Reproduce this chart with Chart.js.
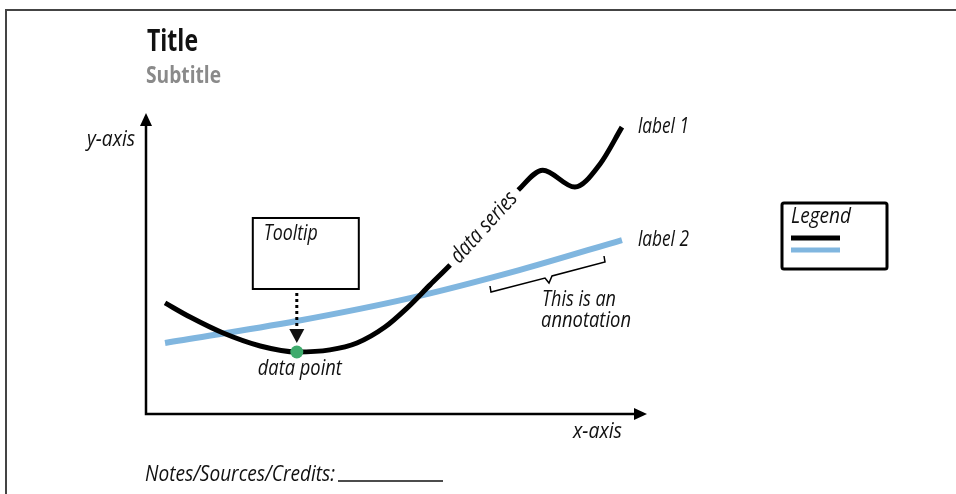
<!DOCTYPE html>
<html>
<head>
<meta charset="utf-8">
<script src="https://cdn.jsdelivr.net/npm/chart.js@4/dist/chart.umd.min.js"></script>
<style>
  html, body { margin: 0; padding: 0; background: #fff; }
  #wrap { width: 956px; height: 494px; position: relative; }
</style>
</head>
<body>
<div id="wrap"><canvas id="c" width="956" height="494"></canvas></div>
<script>
// ---- data (abstract units, 0..10 on both axes) ----
const seriesX1 = [0.38, 0.88, 1.54, 2.28, 3.01, 3.67, 4.21, 4.77, 5.21, 5.67, 6.07, 6.77, 7.43, 7.92, 8.56, 9.06, 9.50];
const seriesY1 = [3.69, 3.22, 2.69, 2.26, 2.06, 2.13, 2.36, 2.89, 3.52, 4.29, 4.95, 6.20, 7.44, 8.10, 7.54, 8.30, 9.53];
const seriesX2 = [0.38, 3.01, 5.27, 7.45, 9.50];
const seriesY2 = [2.36, 3.09, 3.85, 4.78, 5.78];
const highlightX = [3.01];
const highlightY = [2.06];
const seriesLabels = ['label 1', 'label 2'];
const gapRange = [10, 12]; // indexes of series 1 where the "data series" text sits

const FONT = "'Open Sans', 'Noto Sans', sans-serif";
const BLUE = '#80b6df';
const GREEN = '#3fab6d';

const pts = (xs, ys) => xs.map((x, i) => ({ x, y: ys[i] }));

function txt(ctx, s, x, y, w) {
  ctx.fillText(s, x, y, w);
}

const annot = {
  id: 'annot',
  afterDatasetsDraw(chart) {
    const ctx = chart.ctx;
    const ca = chart.chartArea;
    ctx.save();
    // frame
    ctx.strokeStyle = '#444';
    ctx.lineWidth = 2;
    ctx.beginPath();
    ctx.moveTo(6, 494); ctx.lineTo(6, 10); ctx.lineTo(956, 10);
    ctx.stroke();

    // axes with arrows
    ctx.strokeStyle = '#000';
    ctx.fillStyle = '#000';
    ctx.lineWidth = 2.5;
    ctx.beginPath();
    ctx.moveTo(ca.left, ca.top + 8); ctx.lineTo(ca.left, ca.bottom); ctx.lineTo(ca.right - 8, ca.bottom);
    ctx.stroke();
    ctx.beginPath();
    ctx.moveTo(ca.left, ca.top); ctx.lineTo(ca.left - 6, ca.top + 13); ctx.lineTo(ca.left + 6, ca.top + 13); ctx.closePath(); ctx.fill();
    ctx.beginPath();
    ctx.moveTo(ca.right, ca.bottom); ctx.lineTo(ca.right - 13, ca.bottom - 6); ctx.lineTo(ca.right - 13, ca.bottom + 6); ctx.closePath(); ctx.fill();

    // titles
    ctx.textBaseline = 'alphabetic';
    ctx.textAlign = 'left';
    ctx.fillStyle = '#111';
    ctx.font = 'bold 30px ' + FONT;
    txt(ctx, 'Title', 147, 51, 51);
    ctx.fillStyle = '#8a8a8a';
    ctx.font = 'bold 23px ' + FONT;
    txt(ctx, 'Subtitle', 146, 83, 75);

    ctx.fillStyle = '#111';
    ctx.font = 'italic 22px ' + FONT;
    ctx.textAlign = 'right';
    txt(ctx, 'y-axis', 135, 146, 48);
    txt(ctx, 'x-axis', 622, 438, 49);
    ctx.textAlign = 'left';
    txt(ctx, 'Notes/Sources/Credits:', 145, 481, 190);
    ctx.lineWidth = 1.5;
    ctx.strokeStyle = '#111';
    ctx.beginPath(); ctx.moveTo(338, 481); ctx.lineTo(443, 481); ctx.stroke();

    // line end labels
    ctx.textBaseline = 'middle';
    [0, 1].forEach(di => {
      const meta = chart.getDatasetMeta(di);
      const last = meta.data[meta.data.length - 1];
      txt(ctx, seriesLabels[di], last.x + 16, last.y, 51);
    });

    // "data series" along series 1
    const m1 = chart.getDatasetMeta(0).data;
    const a = m1[gapRange[0]], b = m1[gapRange[1]];
    ctx.save();
    ctx.translate((a.x + b.x) / 2, (a.y + b.y) / 2);
    ctx.rotate(Math.atan2(b.y - a.y, b.x - a.x));
    ctx.textAlign = 'center';
    ctx.textBaseline = 'middle';
    txt(ctx, 'data series', 0, 0, 88);
    ctx.restore();

    // tooltip box + dotted arrow + point label
    const p = chart.getDatasetMeta(2).data[0];
    ctx.lineWidth = 2;
    ctx.strokeStyle = '#000';
    ctx.strokeRect(p.x - 44, p.y - 134, 106, 71);
    ctx.textAlign = 'left';
    ctx.textBaseline = 'alphabetic';
    txt(ctx, 'Tooltip', p.x - 33, p.y - 112, 54);
    ctx.setLineDash([3, 3]);
    ctx.lineWidth = 3;
    ctx.beginPath(); ctx.moveTo(p.x, p.y - 59); ctx.lineTo(p.x, p.y - 22); ctx.stroke();
    ctx.setLineDash([]);
    ctx.beginPath();
    ctx.moveTo(p.x - 7.5, p.y - 23); ctx.lineTo(p.x + 7.5, p.y - 23); ctx.lineTo(p.x, p.y - 9); ctx.closePath(); ctx.fill();
    ctx.textAlign = 'center';
    txt(ctx, 'data point', p.x + 3, p.y + 23, 84);

    // annotation brace
    ctx.lineWidth = 1.5;
    ctx.beginPath();
    ctx.moveTo(490, 286); ctx.lineTo(491, 292); ctx.lineTo(545, 278); ctx.lineTo(549, 283);
    ctx.lineTo(552, 276); ctx.lineTo(605, 262); ctx.lineTo(604, 256);
    ctx.stroke();
    ctx.textAlign = 'left';
    txt(ctx, 'This is an', 542, 306, 74);
    txt(ctx, 'annotation', 541, 327, 90);

    // legend box
    ctx.lineWidth = 3;
    ctx.beginPath();
    if (ctx.roundRect) ctx.roundRect(782, 203, 105, 66, 2); else ctx.rect(782, 203, 105, 66);
    ctx.stroke();
    txt(ctx, 'Legend', 791, 223, 60);
    chart.data.datasets.slice(0, 2).forEach((ds, i) => {
      ctx.strokeStyle = ds.borderColor;
      ctx.lineWidth = 5;
      ctx.beginPath(); ctx.moveTo(791, 238 + i * 12); ctx.lineTo(840, 238 + i * 12); ctx.stroke();
    });
    ctx.restore();
  }
};

new Chart(document.getElementById('c'), {
  type: 'line',
  data: {
    datasets: [
      {
        label: seriesLabels[0],
        data: pts(seriesX1, seriesY1),
        borderColor: '#000',
        borderWidth: 5,
        pointRadius: 0,
        cubicInterpolationMode: 'monotone',
        clip: false,
        segment: {
          borderColor: c => (c.p0DataIndex >= gapRange[0] && c.p1DataIndex <= gapRange[1]) ? 'rgba(0,0,0,0)' : '#000'
        },
        order: 1
      },
      {
        label: seriesLabels[1],
        data: pts(seriesX2, seriesY2),
        borderColor: BLUE,
        borderWidth: 6,
        pointRadius: 0,
        cubicInterpolationMode: 'monotone',
        clip: false,
        order: 2
      },
      {
        label: 'point',
        data: pts(highlightX, highlightY),
        showLine: false,
        pointRadius: 6.5,
        pointBackgroundColor: GREEN,
        pointBorderColor: GREEN,
        pointBorderWidth: 0,
        clip: false,
        order: 0
      }
    ]
  },
  options: {
    responsive: false,
    animation: false,
    events: [],
    layout: { padding: { left: 146, right: 309, top: 113, bottom: 80 } },
    scales: {
      x: { type: 'linear', min: 0, max: 10, display: false },
      y: { type: 'linear', min: 0, max: 10, display: false }
    },
    plugins: { legend: { display: false }, tooltip: { enabled: false }, title: { display: false } }
  },
  plugins: [annot]
});
</script>
</body>
</html>
